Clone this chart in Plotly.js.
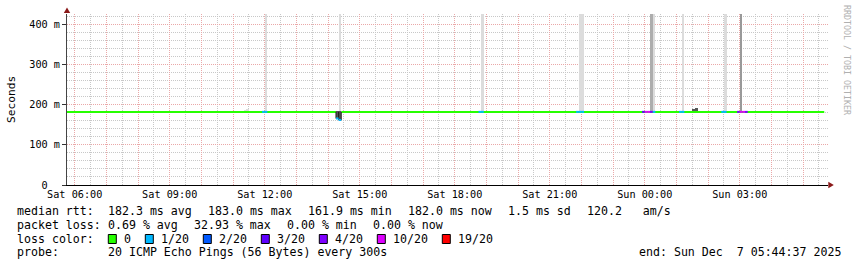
<!DOCTYPE html>
<html>
<head>
<meta charset="utf-8">
<script src="https://cdn.plot.ly/plotly-3.0.1.min.js"></script>
<style>
html,body{margin:0;padding:0;background:#ffffff;overflow:hidden;}
#chart{width:857px;height:267px;}
</style>
</head>
<body>
<div id="chart"></div>
<script>
// ---------------- data ----------------
const medianStart = '2025-12-06 05:45';
const medianEnd   = '2025-12-07 05:40';
const medianValue = 0.182;               // seconds, loss-free median

// 5-minute steps with packet loss (start of step), their median and lost pings
const stepStart  = ['2025-12-06 11:55','2025-12-06 12:00','2025-12-06 14:15','2025-12-06 14:20',
                    '2025-12-06 18:45','2025-12-06 18:50','2025-12-06 21:50','2025-12-06 21:55',
                    '2025-12-06 22:00','2025-12-06 23:55','2025-12-07 00:00','2025-12-07 00:05',
                    '2025-12-07 00:10','2025-12-07 00:15','2025-12-07 01:05','2025-12-07 01:10',
                    '2025-12-07 02:25','2025-12-07 02:30','2025-12-07 02:55','2025-12-07 03:00',
                    '2025-12-07 03:05','2025-12-07 03:10'];
const stepMedian = [0.182,0.182,0.1655,0.1619,
                    0.182,0.182,0.182,0.182,
                    0.182,0.182,0.182,0.182,
                    0.182,0.182,0.182,0.182,
                    0.182,0.182,0.182,0.182,
                    0.182,0.182];
const stepLoss   = [1,1,1,1,
                    1,1,1,1,
                    1,3,7,6,
                    4,1,1,1,
                    1,1,4,7,
                    6,4];

// smoke (spread of the 20 pings), grouped by density
const smokeLightStart = ['2025-12-06 11:20','2025-12-06 11:25','2025-12-06 12:00','2025-12-06 14:20',
                         '2025-12-06 18:50','2025-12-06 21:55','2025-12-06 22:00','2025-12-07 00:15',
                         '2025-12-07 01:10','2025-12-07 02:30'];
const smokeLightLow   = [0.183,0.183,0.1845,0.1845,0.1845,0.1845,0.1845,0.1845,0.1845,0.1845];
const smokeLightHigh  = [0.187,0.189,0.5,0.5,0.5,0.5,0.5,0.5,0.5,0.5];

const smokeMidStart = ['2025-12-07 00:10'];
const smokeMidLow   = [0.1845];
const smokeMidHigh  = [0.5];

const smokeDenseStart = ['2025-12-07 03:00'];
const smokeDenseLow   = [0.1845];
const smokeDenseHigh  = [0.5];

const smokeDarkStart = ['2025-12-06 14:15','2025-12-06 14:20','2025-12-07 01:30','2025-12-07 01:35'];
const smokeDarkLow   = [0.164,0.164,0.183,0.183];
const smokeDarkHigh  = [0.184,0.184,0.189,0.1915];

// loss colour legend
const lossThresholds = [0,1,2,3,4,10,19];
const lossLabels     = ['0','1/20','2/20','3/20','4/20','10/20','19/20'];
const lossColors     = ['#26ff00','#00b8ff','#0059ff','#5e00ff','#7e00ff','#dd00ff','#ff0000'];

// axis labels
const xLabelTimes = ['2025-12-06 06:00','2025-12-06 09:00','2025-12-06 12:00','2025-12-06 15:00',
                     '2025-12-06 18:00','2025-12-06 21:00','2025-12-07 00:00','2025-12-07 03:00'];
const xLabels     = ['Sat 06:00','Sat 09:00','Sat 12:00','Sat 15:00',
                     'Sat 18:00','Sat 21:00','Sun 00:00','Sun 03:00'];
const yTickVals   = [0,0.1,0.2,0.3,0.4];
const yTickText   = ['0','100 m','200 m','300 m','400 m'];

// legend texts
const rttLabel   = 'median rtt:';
const rttItems   = ['182.3 ms avg','183.0 ms max','161.9 ms min','182.0 ms now','1.5 ms sd','120.2   am/s'];
const plLabel    = 'packet loss:';
const plItems    = ['0.69 % avg','32.93 % max','0.00 % min','0.00 % now'];
const lcLabel    = 'loss color:';
const probeLabel = 'probe:';
const probeText  = '20 ICMP Echo Pings (56 Bytes) every 300s';
const endText    = 'end: Sun Dec  7 05:44:37 2025';
const watermark  = 'RRDTOOL / TOBI OETIKER';

// ---------------- helpers ----------------
const STEP = 300000;
function toMs(s){const m=s.match(/(\d+)-(\d+)-(\d+) (\d+):(\d+)(?::(\d+))?/);return Date.UTC(+m[1],m[2]-1,+m[3],+m[4],+m[5],+(m[6]||0));}
function toStr(ms){return new Date(ms).toISOString().slice(0,19).replace('T',' ');}
function lossIdx(n){for(let i=0;i<lossThresholds.length;i++){if(n<=lossThresholds[i])return i;}return lossThresholds.length-1;}

const FONT = 'DejaVu Sans Mono';
const X0=67, PW=761, Y0=185, PH=171;
const pxX = v => (v-X0)/PW;
const pxY = v => (Y0-v)/PH;
const nb = s => s.replace(/ /g,'\u00a0');

// ---------------- traces ----------------
const traces = [];
function smokeTrace(st, lo, hi, color){
  return {type:'bar', x:st, base:lo, y:hi.map((h,i)=>h-lo[i]), width:STEP, offset:0,
          marker:{color:color, line:{width:0}}, hoverinfo:'skip'};
}
traces.push(smokeTrace(smokeLightStart, smokeLightLow, smokeLightHigh, '#dcdcdc'));
traces.push(smokeTrace(smokeMidStart, smokeMidLow, smokeMidHigh, '#adadad'));
traces.push(smokeTrace(smokeDenseStart, smokeDenseLow, smokeDenseHigh, '#999999'));
traces.push(smokeTrace(smokeDarkStart, smokeDarkLow, smokeDarkHigh, '#575757'));

// green baseline, broken where the median departs from it
const gaps=[];
stepStart.forEach((s,i)=>{ if(Math.abs(stepMedian[i]-medianValue)>0.003){ const a=toMs(s); gaps.push([a,a+STEP]); }});
const gx=[], gy=[];
let cur = toMs(medianStart);
gaps.sort((a,b)=>a[0]-b[0]).forEach(g=>{ if(g[0]>cur){gx.push(toStr(cur),toStr(g[0]),null); gy.push(medianValue,medianValue,null);} cur=Math.max(cur,g[1]); });
gx.push(toStr(cur), toStr(toMs(medianEnd))); gy.push(medianValue, medianValue);
traces.push({type:'scatter', mode:'lines', x:gx, y:gy, line:{color:lossColors[0], width:2}, hoverinfo:'skip'});

// dark step outline of the median where it departs
const dx=[], dy=[];
gaps.forEach(g=>{
  const i = stepStart.findIndex(s=>toMs(s)===g[0]);
  dx.push(toStr(g[0])); dy.push(medianValue);
  dx.push(toStr(g[0]), toStr(g[1])); dy.push(stepMedian[i], stepMedian[i]);
  dx.push(toStr(g[1])); dy.push(medianValue);
});
traces.push({type:'scatter', mode:'lines', x:dx, y:dy, line:{color:'#202020', width:1}, hoverinfo:'skip'});

// loss-coloured median segments
lossColors.forEach((c,k)=>{
  const x=[], y=[];
  stepStart.forEach((s,i)=>{ if(stepLoss[i]>0 && lossIdx(stepLoss[i])===k){ const a=toMs(s); x.push(toStr(a),toStr(a+STEP),null); y.push(stepMedian[i],stepMedian[i],null);} });
  if(x.length) traces.push({type:'scatter', mode:'lines', x:x, y:y, line:{color:c, width:2}, hoverinfo:'skip'});
});

// ---------------- axes ----------------
const xRange = ['2025-12-06 05:45:25','2025-12-07 05:47:09'];
const hourVals=[], hourText=[];
for(let t=toMs('2025-12-06 06:00'); t<=toMs(xRange[1]); t+=3600000){
  hourVals.push(toStr(t));
  const j = xLabelTimes.findIndex(s=>toMs(s)===t);
  hourText.push(j>=0 ? nb(xLabels[j]) : '');
}
const yTickTextPadded = yTickText.map(t=>{ const w=5; const l=Math.floor((w-t.length)/2); return '\u00a0'.repeat(l)+nb(t)+'\u00a0'.repeat(w-t.length-l); });

const RED = '#eaa8a8', GRAY = '#c8c8c8';

// ---------------- annotations ----------------
const ann=[];
function txt(s, x, yc, size, color, extra){
  ann.push(Object.assign({xref:'paper', yref:'paper', x:pxX(x), y:pxY(yc), xanchor:'left', yanchor:'middle',
    text:nb(s), showarrow:false, borderpad:0, font:{family:FONT, size:size, color:color||'#000'}}, extra||{}));
}
const CW=7, GAP=16, COL1=107.3, FS=11.6;
const rowY=[211.3, 225, 238.6, 252.3];
txt(rttLabel, 16, rowY[0], FS);
let xp=COL1; rttItems.forEach(s=>{ txt(s, xp, rowY[0], FS); xp += s.length*CW + GAP; });
txt(plLabel, 16, rowY[1], FS);
xp=COL1; plItems.forEach(s=>{ txt(s, xp, rowY[1], FS); xp += s.length*CW + GAP; });
txt(lcLabel, 16, rowY[2], FS);
const shapes=[];
let bx=108.3;
lossLabels.forEach((s,i)=>{
  shapes.push({type:'rect', xref:'paper', yref:'paper', x0:pxX(bx), x1:pxX(bx+8), y0:pxY(243.5), y1:pxY(234.5),
               fillcolor:lossColors[i], line:{color:'#000', width:1}, layer:'above'});
  txt(s, bx+15, rowY[2], FS);
  bx += 30 + s.length*CW;
});
txt(probeLabel, 16, rowY[3], FS);
txt(probeText, COL1, rowY[3], FS);
txt(endText, 638.3, rowY[3], FS);
// y axis title
ann.push({xref:'paper', yref:'paper', x:pxX(11), y:pxY(100), xanchor:'center', yanchor:'middle', textangle:-90,
          text:'Seconds', showarrow:false, font:{family:FONT, size:11.2, color:'#000'}});
// watermark
ann.push({xref:'paper', yref:'paper', x:pxX(847), y:pxY(60), xanchor:'center', yanchor:'middle', textangle:90,
          text:nb(watermark), showarrow:false, font:{family:FONT, size:8.3, color:'#b0b0b0'}});

// arrows
shapes.push({type:'path', xref:'paper', yref:'paper', path:`M ${pxX(67)} ${pxY(7.5)} L ${pxX(63.8)} ${pxY(13)} L ${pxX(70.2)} ${pxY(13)} Z`,
             fillcolor:'#8b1a1a', line:{width:0}});
shapes.push({type:'path', xref:'paper', yref:'paper', path:`M ${pxX(833.8)} ${pxY(185)} L ${pxX(828.3)} ${pxY(181.8)} L ${pxX(828.3)} ${pxY(188.2)} Z`,
             fillcolor:'#8b1a1a', line:{width:0}});

const layout = {
  width:857, height:267,
  margin:{l:X0, r:857-X0-PW, t:14, b:267-Y0, pad:0},
  paper_bgcolor:'#ffffff', plot_bgcolor:'#ffffff',
  showlegend:false, barmode:'overlay', bargap:0,
  xaxis:{type:'date', range:xRange, tickmode:'array', tickvals:hourVals, ticktext:hourText,
         showgrid:true, gridcolor:RED, griddash:'1px,1px', gridwidth:1,
         showline:true, linecolor:'#000', linewidth:1, zeroline:false, ticks:'',
         tickfont:{family:FONT, size:10.2, color:'#000'},
         minor:{tickmode:'linear', tick0:'2025-12-06 06:30', dtick:3600000, showgrid:true, gridcolor:GRAY, griddash:'1px,1px', gridwidth:1, ticks:''},
         fixedrange:true},
  yaxis:{range:[0,0.4256], tickmode:'array', tickvals:yTickVals, ticktext:yTickTextPadded,
         showgrid:true, gridcolor:RED, griddash:'1px,1px', gridwidth:1,
         showline:true, linecolor:'#444', linewidth:1, zeroline:false,
         ticks:'outside', ticklen:4, tickcolor:'#333', tickwidth:1,
         tickfont:{family:FONT, size:10.2, color:'#000'},
         minor:{tickmode:'linear', tick0:0, dtick:0.02, showgrid:true, gridcolor:GRAY, griddash:'1px,1px', gridwidth:1, ticks:''},
         fixedrange:true},
  annotations:ann,
  shapes:shapes
};

Plotly.newPlot('chart', traces, layout, {displayModeBar:false, staticPlot:true});
</script>
</body>
</html>
